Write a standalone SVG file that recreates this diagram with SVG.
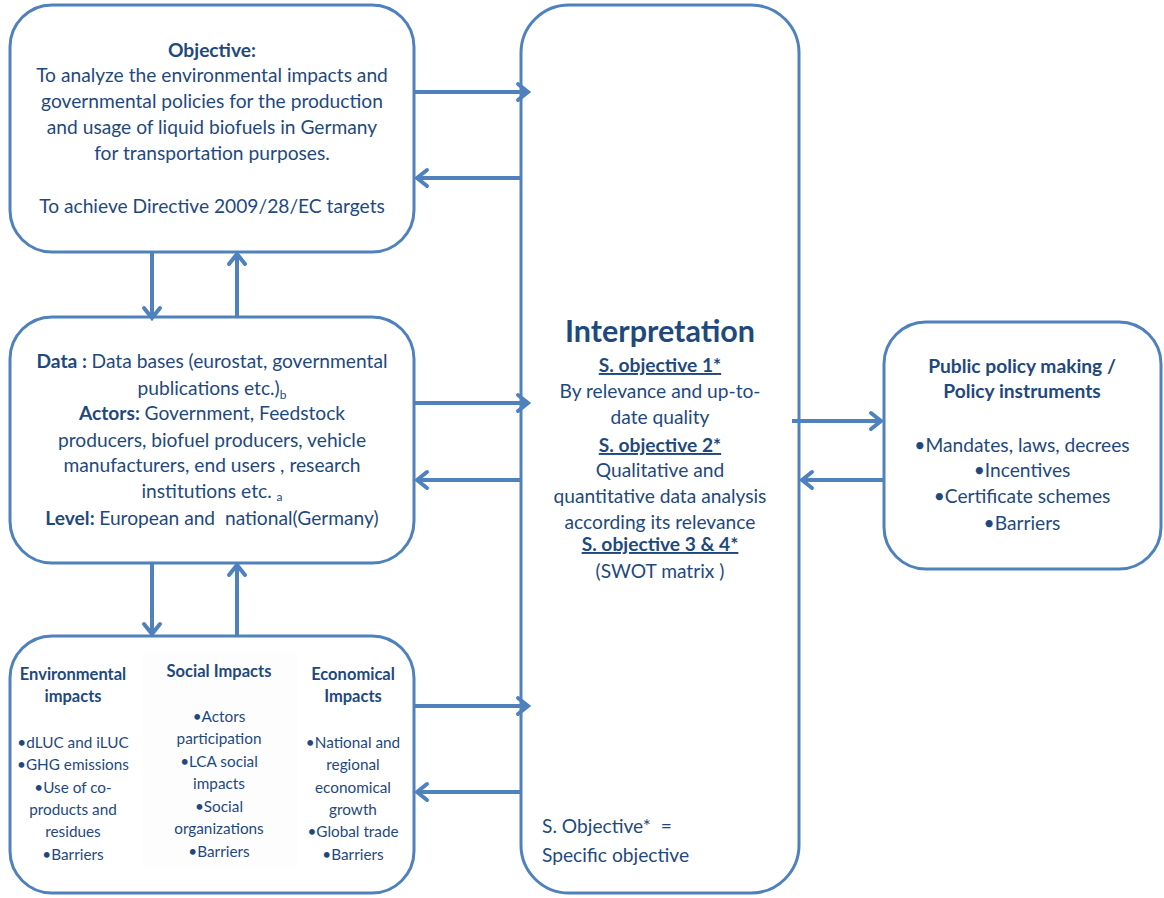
<svg xmlns="http://www.w3.org/2000/svg" width="1164" height="898" viewBox="0 0 1164 898">
  <style>
    .box { fill: #ffffff; stroke: #4F81BD; stroke-width: 3; }
    .t { font-family: Lato, "Liberation Sans", sans-serif; font-size: 19.2px; fill: #1F497D; text-anchor: middle; white-space: pre; }
    .s { font-size: 15.3px; }
    .s.b { font-size: 16.5px; }
    .big { font-size: 30.5px; }
    .sub { font-size: 12px; }
    .left { text-anchor: start; }
    .b { font-weight: bold; }
    .u { text-decoration: underline; }
    .link { stroke: #4F81BD; stroke-width: 4; fill: none; marker-end: url(#arrow); }
  </style>
  <defs>
    <marker id="arrow" markerUnits="userSpaceOnUse" markerWidth="24" markerHeight="24" viewBox="-14 -12 18 24" refX="0" refY="0" orient="auto">
      <path d="M-10,-8 L0,0 L-10,8" fill="none" stroke="#4F81BD" stroke-width="4" stroke-linecap="round" stroke-linejoin="miter"/>
    </marker>
  </defs>

  <rect width="1164" height="898" fill="#ffffff"/>

  <!-- Objective -->
  <g id="objective">
    <rect class="box" x="10" y="5" width="404" height="247" rx="42" ry="42"/>
    <text class="t b" x="212" y="57">Objective:</text>
    <text class="t" x="212" y="82">To analyze the environmental impacts and</text>
    <text class="t" x="212" y="108">governmental policies for the production</text>
    <text class="t" x="212" y="134">and usage of liquid biofuels in Germany</text>
    <text class="t" x="212" y="160">for transportation purposes.</text>
    <text class="t" x="212" y="213">To achieve Directive 2009/28/EC targets</text>
  </g>

  <!-- Data / actors / level -->
  <g id="data">
    <rect class="box" x="10" y="317" width="404" height="246" rx="42" ry="42"/>
    <text class="t" x="212" y="368"><tspan class="b">Data : </tspan>Data bases (eurostat, governmental</text>
    <text class="t" x="212" y="395">publications etc.)<tspan class="sub" dy="4">b</tspan></text>
    <text class="t" x="212" y="420"><tspan class="b">Actors: </tspan>Government, Feedstock</text>
    <text class="t" x="212" y="447">producers, biofuel producers, vehicle</text>
    <text class="t" x="212" y="472">manufacturers, end users , research</text>
    <text class="t" x="212" y="498">institutions etc. <tspan class="sub" dy="3">a</tspan></text>
    <text class="t" x="212" y="525"><tspan class="b">Level: </tspan>European and  national(Germany)</text>
  </g>

  <!-- Impacts: three columns -->
  <g id="impacts">
    <rect class="box" x="10" y="636" width="404" height="257" rx="42" ry="42"/>
    <rect x="143" y="653" width="154" height="215" fill="#fdfdfd"/>
    <text class="t s b" x="73" y="680">Environmental</text>
    <text class="t s b" x="73" y="702">impacts</text>
    <text class="t s" x="73" y="748">•dLUC and iLUC</text>
    <text class="t s" x="73" y="770">•GHG emissions</text>
    <text class="t s" x="73" y="793">•Use of co-</text>
    <text class="t s" x="73" y="815">products and</text>
    <text class="t s" x="73" y="837">residues</text>
    <text class="t s" x="73" y="860">•Barriers</text>

    <text class="t s b" x="219" y="677">Social Impacts</text>
    <text class="t s" x="219" y="722">•Actors</text>
    <text class="t s" x="219" y="744">participation</text>
    <text class="t s" x="219" y="767">•LCA social</text>
    <text class="t s" x="219" y="789">impacts</text>
    <text class="t s" x="219" y="812">•Social</text>
    <text class="t s" x="219" y="834">organizations</text>
    <text class="t s" x="219" y="857">•Barriers</text>

    <text class="t s b" x="353" y="680">Economical</text>
    <text class="t s b" x="353" y="702">Impacts</text>
    <text class="t s" x="353" y="748">•National and</text>
    <text class="t s" x="353" y="770">regional</text>
    <text class="t s" x="353" y="793">economical</text>
    <text class="t s" x="353" y="815">growth</text>
    <text class="t s" x="353" y="837">•Global trade</text>
    <text class="t s" x="353" y="860">•Barriers</text>
  </g>

  <!-- Interpretation -->
  <g id="interpretation">
    <rect class="box" x="521" y="5" width="278" height="888" rx="48" ry="48"/>
    <text class="t b big" x="660" y="342">Interpretation</text>
    <text class="t b u" x="660" y="372">S. objective 1*</text>
    <text class="t" x="660" y="398">By relevance and up-to-</text>
    <text class="t" x="660" y="424">date quality</text>
    <text class="t b u" x="660" y="452">S. objective 2*</text>
    <text class="t" x="660" y="477">Qualitative and</text>
    <text class="t" x="660" y="503">quantitative data analysis</text>
    <text class="t" x="660" y="529">according its relevance</text>
    <text class="t b u" x="660" y="551">S. objective 3 &amp; 4*</text>
    <text class="t" x="660" y="578">(SWOT matrix )</text>
    <text class="t left" x="542" y="833">S. Objective*  =</text>
    <text class="t left" x="542" y="862">Specific objective</text>
  </g>

  <!-- Policy -->
  <g id="policy">
    <rect class="box" x="884" y="322" width="277" height="247" rx="42" ry="42"/>
    <text class="t b" x="1022" y="373">Public policy making /</text>
    <text class="t b" x="1022" y="398">Policy instruments</text>
    <text class="t" x="1022" y="452">•Mandates, laws, decrees</text>
    <text class="t" x="1022" y="477">•Incentives</text>
    <text class="t" x="1022" y="503">•Certificate schemes</text>
    <text class="t" x="1022" y="530">•Barriers</text>
  </g>

  <!-- Connectors -->
  <g id="connectors">
    <line class="link" x1="414" y1="92" x2="528" y2="92"/>
    <line class="link" x1="521" y1="178" x2="417" y2="178"/>
    <line class="link" x1="414" y1="403" x2="528" y2="403"/>
    <line class="link" x1="521" y1="480" x2="417" y2="480"/>
    <line class="link" x1="414" y1="706" x2="528" y2="706"/>
    <line class="link" x1="521" y1="792" x2="417" y2="792"/>
    <line class="link" x1="152" y1="252" x2="152" y2="318"/>
    <line class="link" x1="237" y1="317" x2="237" y2="254"/>
    <line class="link" x1="152" y1="563" x2="152" y2="634"/>
    <line class="link" x1="237" y1="636" x2="237" y2="565"/>
    <line class="link" x1="792" y1="421" x2="881" y2="421"/>
    <line class="link" x1="884" y1="480" x2="802" y2="480"/>
  </g>
</svg>
